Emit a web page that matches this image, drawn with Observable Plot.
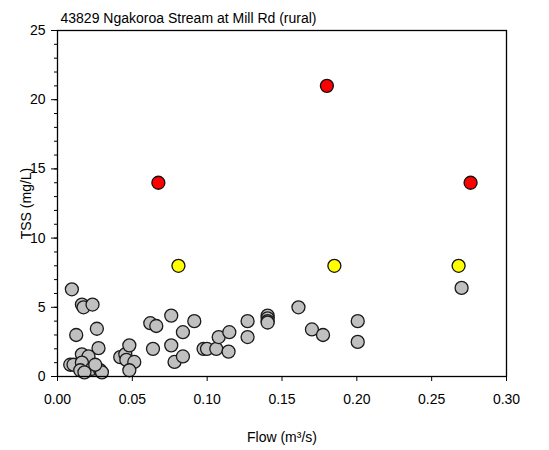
<!DOCTYPE html>
<html><head><meta charset="utf-8">
<script src="https://cdn.jsdelivr.net/npm/d3@7"></script>
<script src="https://cdn.jsdelivr.net/npm/@observablehq/plot@0.6"></script>
<style>body{margin:0;background:#fff;}</style>
</head><body><div id="chart"></div>
<script>
const title = "43829 Ngakoroa Stream at Mill Rd (rural)";
const xLabel = "Flow (m³/s)";
const yLabel = "TSS (mg/L)";
const grayFlow = [0.0096,0.0163,0.0174,0.0234,0.0125,0.0263,0.0274,0.0163,0.0207,0.0085,0.0107,0.0163,0.0152,0.023,0.0285,0.0297,0.0252,0.018,
  0.0419,0.0453,0.046,0.0513,0.048,0.048,
  0.062,0.066,0.0638,0.076,0.076,0.0782,0.0838,0.0838,0.0914,0.0976,0.0999,0.1061,0.1077,0.1143,0.1148,0.127,0.127,
  0.1404,0.1404,0.1404,0.1404,0.161,0.170,0.1774,0.2006,0.2006,0.270];
const grayTSS = [6.3,5.2,5.0,5.2,3.0,3.45,2.05,1.6,1.45,0.85,0.85,1.0,0.45,0.55,0.45,0.3,0.85,0.3,
  1.4,1.6,1.2,1.05,0.45,2.25,
  3.85,3.65,2.0,4.4,2.25,1.05,3.2,1.45,4.0,2.0,2.0,2.0,2.85,1.8,3.2,4.0,2.85,
  4.4,4.2,4.0,3.9,5.0,3.4,3.0,4.0,2.5,6.4];
const yellowFlow = [0.0808,0.185,0.268];
const yellowTSS = [8,8,8];
const redFlow = [0.0674,0.180,0.276];
const redTSS = [14,21,14];
const xTicks = [0,0.05,0.10,0.15,0.20,0.25,0.30];
const yTicks = [0,5,10,15,20,25];
const yMinor = d3.range(0,26);

const pts = (xs, ys) => xs.map((x,i) => ({x, y: ys[i]}));
const gray = pts(grayFlow, grayTSS), yellow = pts(yellowFlow, yellowTSS), red = pts(redFlow, redTSS);

const chart = Plot.plot({
  width: 549, height: 450,
  marginTop: 30, marginLeft: 57, marginRight: 43, marginBottom: 74,
  style: {fontFamily: "'Liberation Sans', Arial, sans-serif", fontSize: "14px", background: "#fff", color: "#000"},
  x: {domain: [0, 0.3]},
  y: {domain: [0, 25]},
  marks: [
    Plot.axisY({ticks: yMinor, tickSize: 3, text: null, label: null}),
    Plot.axisY({ticks: yTicks, tickSize: 6, tickPadding: 6, label: yLabel, labelAnchor: "center", labelOffset: 36, labelArrow: "none"}),
    Plot.axisX({ticks: xTicks, tickSize: 5, tickPadding: 13, tickFormat: ".2f", label: xLabel, labelAnchor: "center", labelOffset: 65, labelArrow: "none"}),
    Plot.dot(gray, {x: "x", y: "y", r: 6.5, fill: "#c0c0c0", stroke: "#1a1a1a", strokeWidth: 1.3}),
    Plot.dot(yellow, {x: "x", y: "y", r: 6.5, fill: "#ffff00", stroke: "#111", strokeWidth: 1.3}),
    Plot.dot(red, {x: "x", y: "y", r: 6.5, fill: "#ff0000", stroke: "#111", strokeWidth: 1.3}),
    Plot.frame({stroke: "#000", strokeWidth: 1.3}),
    Plot.text([title], {frameAnchor: "top-left", dx: 3, dy: -17, textAnchor: "start", fontSize: 14})
  ]
});
document.getElementById("chart").append(chart);
</script>
</body></html>
